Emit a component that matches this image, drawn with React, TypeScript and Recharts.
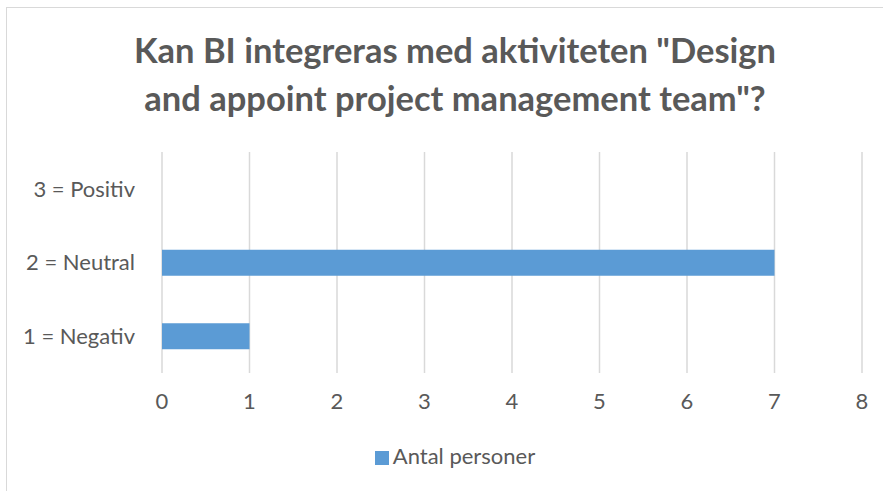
import { BarChart, Bar, XAxis, YAxis, CartesianGrid, Legend } from 'recharts';

const categories = ['3 = Positiv', '2 = Neutral', '1 = Negativ'];
const antalPersoner = [0, 7, 1];
const xTicks = [0, 1, 2, 3, 4, 5, 6, 7, 8];
const titleLines = ['Kan BI integreras med aktiviteten "Design', 'and appoint project management team"?'];

const data = categories.map((name, i) => ({ name, value: antalPersoner[i] }));

const FONT = 'Lato, "Open Sans", sans-serif';
const TEXT = '#595959';

const App = () => {
    return (
        <div style={{ position: 'relative', width: 883, height: 491, background: '#fff', fontFamily: FONT }}>
            <style>{'body { margin: 0; }'}</style>
            <div
                style={{
                    position: 'absolute',
                    left: 0,
                    top: 26,
                    width: 910,
                    textAlign: 'center',
                    fontSize: 34.5,
                    fontWeight: 700,
                    lineHeight: '48px',
                    color: TEXT,
                }}
            >
                {titleLines.map((t) => (
                    <div key={t}>{t}</div>
                ))}
            </div>
            <BarChart
                width={883}
                height={491}
                data={data}
                layout="vertical"
                margin={{ top: 152, right: 21, bottom: 51, left: 12 }}
                style={{ position: 'absolute', left: 0, top: 0 }}
            >
                <CartesianGrid horizontal={false} stroke="#d9d9d9" strokeWidth={1.5} />
                <XAxis
                    type="number"
                    domain={[0, 8]}
                    ticks={xTicks}
                    interval={0}
                    axisLine={false}
                    tickLine={false}
                    tickSize={0}
                    tickMargin={20}
                    height={40}
                    tick={{ fill: TEXT, fontSize: 22, fontFamily: FONT }}
                />
                <YAxis
                    type="category"
                    dataKey="name"
                    width={150}
                    axisLine={false}
                    tickLine={false}
                    tickSize={0}
                    tickMargin={27}
                    tick={{ fill: TEXT, fontSize: 22, fontFamily: FONT }}
                />
                <Legend
                    verticalAlign="bottom"
                    iconType="square"
                    iconSize={14}
                    wrapperStyle={{ top: 442, left: 10, width: 900, fontFamily: FONT, fontSize: 22 }}
                    formatter={(v) => <span style={{ color: TEXT }}>{v}</span>}
                />
                <Bar dataKey="value" name="Antal personer" fill="#5b9bd5" barSize={26} isAnimationActive={false} />
            </BarChart>
            <div
                style={{
                    position: 'absolute',
                    left: 6,
                    top: 7,
                    width: 877,
                    height: 484,
                    borderLeft: '1px solid #d9d9d9',
                    borderTop: '1px solid #d9d9d9',
                    boxSizing: 'border-box',
                    pointerEvents: 'none',
                    zIndex: 2,
                }}
            />
        </div>
    );
};

export default App;
